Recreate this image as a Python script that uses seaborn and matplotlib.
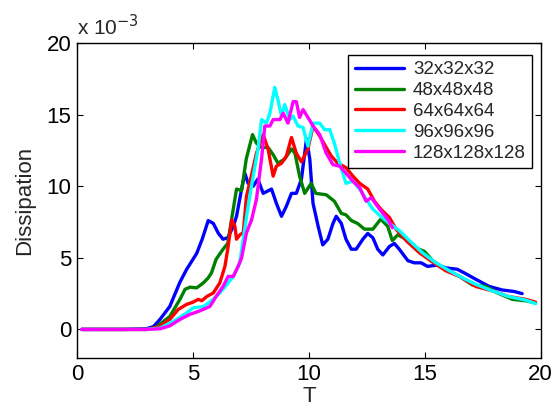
import numpy as np
import pandas as pd
import matplotlib
matplotlib.use("Agg")
import matplotlib.pyplot as plt
import seaborn as sns

labels = ["32x32x32", "48x48x48", "64x64x64", "96x96x96", "128x128x128"]
colors = ["#0000ff", "#008000", "#ff0000", "#00ffff", "#ff00ff"]

t32 = [0.2, 1.0, 2.0, 3.0, 3.3, 3.58, 4.0, 4.44, 4.73, 5.16, 5.4, 5.66, 5.88, 6.1, 6.3, 6.5, 6.74, 6.88, 7.1, 7.24,
       7.38, 7.6, 7.8, 8.03, 8.39, 8.6, 8.82, 9.03, 9.25, 9.46, 9.68, 9.9, 10.04, 10.18, 10.4, 10.6, 10.82, 11.04,
       11.18, 11.4, 11.6, 11.83, 12.04, 12.33, 12.54, 12.76, 12.97, 13.19, 13.48, 13.69, 13.9, 14.27, 14.55, 14.84,
       15.12, 15.56, 15.9, 16.4, 16.7, 17.2, 17.78, 18.35, 18.85, 19.2]
d32 = [0.0, 0.0, 0.0, 0.05, 0.2, 0.7, 1.6, 3.3, 4.2, 5.3, 6.3, 7.6, 7.4, 6.7, 6.3, 6.4, 7.2, 7.9, 9.8, 10.9,
       10.2, 10.0, 10.5, 9.5, 9.8, 8.8, 7.9, 8.6, 9.5, 9.5, 10.5, 13.3, 11.9, 8.8, 7.2, 5.9, 6.3, 7.4,
       7.9, 7.4, 6.3, 5.6, 5.6, 6.3, 6.7, 6.4, 5.6, 5.2, 5.8, 6.0, 5.6, 4.8, 4.65, 4.65,
       4.4, 4.5, 4.3, 4.2, 3.95, 3.5, 3.0, 2.75, 2.65, 2.5]

t48 = [0.2, 1.0, 2.0, 3.0, 3.4, 4.0, 4.44, 4.66, 4.87, 5.16, 5.45, 5.66, 5.8, 6.0, 6.3, 6.5, 6.74, 6.88, 7.1, 7.3,
       7.57, 7.74, 7.96, 8.24, 8.46, 8.67, 8.96, 9.25, 9.4, 9.6, 9.82, 10.1, 10.3, 10.75, 11.1, 11.4, 11.6, 11.83,
       12.1, 12.4, 12.76, 13.1, 13.4, 13.6, 13.83, 14.2, 14.6, 14.98, 15.34, 15.9, 16.5, 17.06, 17.63, 18.2, 18.78,
       19.35, 19.64]
d48 = [0.0, 0.0, 0.0, 0.0, 0.15, 0.9, 2.1, 2.8, 2.95, 2.9, 3.25, 3.6, 3.95, 4.9, 5.6, 6.0, 8.4, 9.8, 9.7, 11.9,
       13.6, 13.0, 12.7, 12.7, 12.2, 11.6, 11.9, 12.6, 12.3, 10.7, 9.5, 10.2, 9.5, 9.4, 8.95, 8.1, 8.0, 7.6,
       7.4, 7.0, 7.0, 7.7, 7.2, 6.2, 6.6, 6.3, 5.7, 5.45, 4.8, 4.2, 3.7, 3.1, 3.0, 2.5, 2.1,
       2.0, 1.9]

t64 = [0.2, 1.0, 2.0, 3.0, 3.5, 4.0, 4.37, 4.73, 5.0, 5.23, 5.38, 5.6, 5.88, 6.16, 6.38, 6.52, 6.67, 6.81, 6.88,
       7.02, 7.17, 7.31, 7.53, 7.74, 8.03, 8.24, 8.46, 8.6, 8.82, 9.03, 9.25, 9.46, 9.68, 9.96, 10.18, 10.47,
       10.75, 10.97, 11.25, 11.6, 11.9, 12.19, 12.54, 12.83, 13.1, 13.48, 13.76, 14.2, 14.77, 15.34, 15.9, 16.5,
       17.2, 17.9, 18.6, 19.35, 19.78]
d64 = [0.0, 0.0, 0.0, 0.0, 0.15, 0.7, 1.4, 1.75, 1.9, 2.1, 2.0, 2.3, 2.55, 3.25, 4.4, 5.8, 7.65, 7.2, 6.3,
       6.6, 6.75, 9.3, 10.8, 12.3, 13.6, 12.6, 10.7, 11.4, 11.6, 12.1, 13.4, 12.3, 11.7, 12.6, 14.2, 13.5,
       12.7, 12.1, 11.6, 11.3, 10.7, 10.2, 9.8, 8.95, 8.4, 7.8, 7.0, 6.2, 5.35, 4.7, 4.1, 3.7,
       3.0, 2.7, 2.3, 2.1, 1.9]

t96 = [0.2, 1.0, 2.0, 3.0, 3.6, 4.3, 4.73, 5.0, 5.45, 5.8, 6.16, 6.45, 6.74, 7.02, 7.17, 7.38, 7.6, 7.81, 7.96,
       8.17, 8.32, 8.53, 8.67, 8.82, 8.96, 9.18, 9.32, 9.53, 9.75, 9.96, 10.18, 10.47, 10.68, 10.9, 11.1, 11.33,
       11.6, 11.9, 12.19, 12.47, 12.76, 13.1, 13.48, 13.9, 14.34, 14.9, 15.48, 16.06, 16.63, 17.2, 17.9, 18.6,
       19.35, 19.78]
d96 = [0.0, 0.0, 0.0, 0.0, 0.1, 0.7, 1.15, 1.5, 1.6, 2.0, 2.55, 3.1, 3.7, 4.65, 6.3, 8.6, 10.7, 12.6, 14.65,
       14.4, 15.1, 16.9, 16.0, 14.9, 15.7, 14.65, 14.9, 14.2, 14.1, 12.8, 14.4, 14.4, 13.95, 13.95, 13.0, 11.6,
       10.2, 10.35, 9.8, 9.1, 8.4, 7.9, 7.4, 6.9, 6.2, 5.35, 4.65, 4.1, 3.6, 3.15, 2.7, 2.3,
       2.05, 1.8]

t128 = [0.2, 1.0, 2.0, 3.0, 3.6, 4.0, 4.44, 4.87, 5.3, 5.73, 6.0, 6.3, 6.52, 6.74, 6.95, 7.1, 7.31, 7.53, 7.74,
        7.96, 8.1, 8.32, 8.46, 8.75, 8.89, 9.1, 9.32, 9.46, 9.6, 9.75, 9.96, 10.18, 10.47, 10.75, 11.04, 11.33,
        11.6, 11.9, 12.19, 12.47, 12.69, 13.05, 13.4, 13.6]
d128 = [0.0, 0.0, 0.0, 0.0, 0.05, 0.25, 0.7, 1.05, 1.3, 1.6, 2.3, 3.0, 3.7, 3.7, 4.4, 5.0, 6.75, 7.65, 9.1,
        11.9, 14.2, 14.2, 14.65, 14.65, 15.1, 14.4, 15.9, 15.9, 14.8, 15.35, 14.8, 14.2, 13.6, 12.3, 11.5, 11.4,
        10.9, 10.35, 9.9, 8.95, 9.2, 8.4, 7.7, 7.1]

series_t = [t32, t48, t64, t96, t128]
series_d = [d32, d48, d64, d96, d128]

rows = []
for lab, ts, ds in zip(labels, series_t, series_d):
    for t, d in zip(ts, ds):
        rows.append({"T": t, "Dissipation": d, "grid": lab})
df = pd.DataFrame(rows)

sns.set_style("ticks")
plt.rcParams["font.family"] = ["Liberation Sans", "DejaVu Sans"]
plt.rcParams["xtick.direction"] = "in"
plt.rcParams["ytick.direction"] = "in"

fig = plt.figure(figsize=(5.56, 4.13), dpi=100)
ax = fig.add_axes([0.1385, 0.133, 0.834, 0.763])

sns.lineplot(data=df, x="T", y="Dissipation", hue="grid", hue_order=labels,
             palette=colors, linewidth=2.4, ax=ax, sort=False, estimator=None)

ax.set_xlim(0, 20)
ax.set_ylim(-2, 20)
ax.set_xticks([0, 5, 10, 15, 20])
ax.set_yticks([0, 5, 10, 15, 20])
ax.tick_params(axis="both", which="both", top=True, right=True, length=4, width=0.8,
               labelsize=16, colors="black", pad=4)
for s in ax.spines.values():
    s.set_visible(True)
    s.set_linewidth(1.0)
    s.set_color("black")

ax.set_xlabel("T", fontsize=16, labelpad=1)
ax.set_ylabel("Dissipation", fontsize=16, labelpad=8)
ax.text(0.0, 1.012, r"x 10$^{-3}$", transform=ax.transAxes, fontsize=15,
        ha="left", va="bottom")

leg = ax.legend(loc="upper right", bbox_to_anchor=(0.99, 0.975), fontsize=13.5,
                frameon=True, fancybox=False, framealpha=1, edgecolor="black",
                handlelength=2.6, handletextpad=0.5, borderpad=0.35, labelspacing=0.2,
                borderaxespad=0.2)
leg.get_frame().set_linewidth(1.0)

fig.savefig("out.png", dpi=100)
